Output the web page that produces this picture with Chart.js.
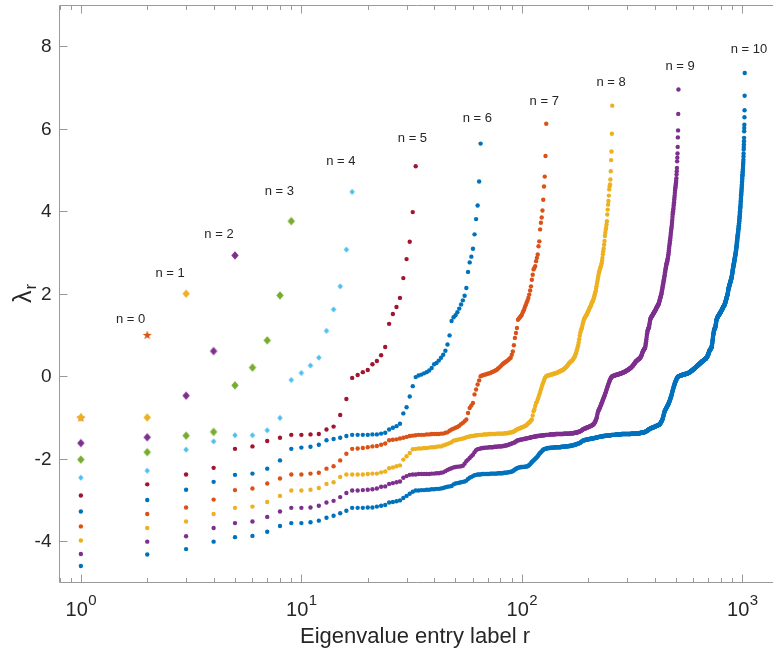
<!DOCTYPE html>
<html>
<head>
<meta charset="utf-8">
<script src="https://cdn.jsdelivr.net/npm/chart.js@4.4.1/dist/chart.umd.min.js"></script>
<style>
  html, body { margin: 0; padding: 0; background: #fff; overflow: hidden; }
  #wrap { width: 773px; height: 653px; position: relative; }
</style>
</head>
<body>
<div id="wrap"><canvas id="eigChart"></canvas></div>
<script>
// sorted eigenvalues lambda_r for each level n (2^n + 1 entries)
var lam0 = [-1.00, 1.00];
var lam1 = [-1.00, -1.00, 2.00];
var lam2 = [-1.62, -1.48, -0.47, 0.61, 2.93];
var lam3 = [-2.02, -1.84, -1.44, -1.35, -0.22, 0.21, 0.87, 1.96, 3.76];
var lam4 = [-2.46, -2.29, -1.78, -1.58, -1.43, -1.43, -1.31, -1.01, -0.09, 0.08, 0.26, 0.45, 1.10, 1.62, 2.18, 3.07, 4.47];
var lam5 = [-2.89, -2.62, -2.38, -2.22, -1.76, -1.70, -1.57, -1.49,
  -1.42, -1.42, -1.41, -1.40, -1.29, -1.22, -0.94, -0.55,
  -0.04, 0.03, 0.10, 0.15, 0.29, 0.37, 0.51, 0.71,
  1.27, 1.51, 1.68, 1.90, 2.38, 2.84, 3.26, 3.98, 5.09];
var lam6 = [-3.28, -3.00, -2.75, -2.56, -2.39, -2.36, -2.24, -2.04,
  -1.76, -1.73, -1.71, -1.66, -1.55, -1.52, -1.49, -1.45,
  -1.42, -1.42, -1.42, -1.42, -1.41, -1.41, -1.39, -1.37,
  -1.29, -1.25, -1.21, -1.15, -0.90, -0.75, -0.49, -0.24,
  -0.02, 0.02, 0.04, 0.07, 0.10, 0.14, 0.20, 0.29,
  0.32, 0.38, 0.45, 0.52, 0.62, 0.77, 0.99, 1.34,
  1.43, 1.48, 1.55, 1.64, 1.74, 1.84, 1.95, 2.14,
  2.53, 2.76, 2.90, 3.09, 3.44, 3.81, 4.14, 4.72, 5.64];
var lam7 = [-3.64, -3.34, -3.18, -2.99, -2.76, -2.72, -2.60, -2.48,
  -2.38, -2.38, -2.36, -2.34, -2.24, -2.18, -2.04, -1.88,
  -1.76, -1.75, -1.74, -1.72, -1.70, -1.69, -1.66, -1.63,
  -1.55, -1.54, -1.53, -1.51, -1.49, -1.47, -1.45, -1.44,
  -1.43, -1.42, -1.42, -1.42, -1.41, -1.41, -1.40, -1.40,
  -1.40, -1.40, -1.39, -1.39, -1.37, -1.36, -1.32, -1.29,
  -1.27, -1.25, -1.23, -1.20, -1.16, -1.13, -1.09, -1.05,
  -0.89, -0.77, -0.71, -0.65, -0.44, -0.32, -0.20, -0.10,
  0.00, 0.02, 0.03, 0.04, 0.05, 0.06, 0.07, 0.08,
  0.10, 0.11, 0.13, 0.14, 0.16, 0.19, 0.21, 0.24,
  0.27, 0.30, 0.32, 0.34, 0.36, 0.38, 0.40, 0.43,
  0.45, 0.52, 0.60, 0.75, 0.93, 1.05, 1.17, 1.37,
  1.40, 1.43, 1.46, 1.49, 1.55, 1.60, 1.66, 1.72,
  1.78, 1.83, 1.90, 1.98, 2.08, 2.18, 2.34, 2.46,
  2.59, 2.63, 2.67, 2.79, 2.87, 2.95, 3.15, 3.27,
  3.56, 3.72, 3.85, 4.02, 4.28, 4.60, 4.84, 5.34, 6.12];
var lam8 = [-3.98,-3.68,-3.52,-3.34,-3.19,-3.16,-3.05,-2.90,-2.77,-2.77,-2.75,-2.71,-2.61,-2.57,-2.44,-2.38,
  -2.38,-2.38,-2.38,-2.37,-2.36,-2.36,-2.33,-2.31,-2.23,-2.21,-2.18,-2.16,-2.02,-1.94,-1.86,-1.77,
  -1.76,-1.75,-1.75,-1.74,-1.74,-1.73,-1.72,-1.72,-1.71,-1.70,-1.70,-1.68,-1.66,-1.64,-1.62,-1.60,
  -1.56,-1.55,-1.54,-1.53,-1.52,-1.51,-1.50,-1.48,-1.47,-1.46,-1.45,-1.45,-1.44,-1.43,-1.43,-1.42,
  -1.42,-1.42,-1.41,-1.41,-1.41,-1.41,-1.40,-1.40,-1.40,-1.40,-1.40,-1.40,-1.39,-1.39,-1.39,-1.39,
  -1.39,-1.39,-1.39,-1.38,-1.38,-1.38,-1.37,-1.37,-1.36,-1.36,-1.35,-1.34,-1.32,-1.31,-1.29,-1.28,
  -1.27,-1.26,-1.25,-1.24,-1.23,-1.22,-1.21,-1.20,-1.18,-1.16,-1.14,-1.12,-1.10,-1.07,-1.05,-0.95,
  -0.85,-0.80,-0.72,-0.65,-0.62,-0.56,-0.50,-0.44,-0.38,-0.32,-0.26,-0.20,-0.15,-0.10,-0.05,-0.02,
  0.00,0.01,0.02,0.02,0.03,0.03,0.04,0.04,0.05,0.05,0.06,0.06,0.07,0.07,0.08,0.08,
  0.09,0.10,0.11,0.11,0.12,0.13,0.14,0.14,0.15,0.16,0.17,0.19,0.20,0.21,0.23,0.24,
  0.26,0.28,0.30,0.32,0.33,0.35,0.36,0.37,0.38,0.40,0.42,0.44,0.46,0.49,0.52,0.56,
  0.61,0.65,0.70,0.75,0.82,0.90,0.98,1.05,1.10,1.14,1.17,1.22,1.28,1.32,1.37,1.40,
  1.42,1.44,1.46,1.48,1.50,1.53,1.56,1.58,1.60,1.63,1.66,1.68,1.70,1.73,1.76,1.79,
  1.81,1.83,1.86,1.90,1.94,1.98,2.02,2.06,2.12,2.18,2.24,2.30,2.36,2.42,2.48,2.53,
  2.56,2.60,2.63,2.66,2.70,2.74,2.80,2.87,2.96,3.03,3.10,3.19,3.28,3.40,3.48,3.55,
  3.60,3.68,3.76,3.92,4.04,4.16,4.25,4.38,4.53,4.60,4.65,4.77,4.97,5.24,5.45,5.88,
  6.56];
var lam9 = [-4.31,-4.01,-3.88,-3.68,-3.56,-3.52,-3.41,-3.28,-3.19,-3.19,-3.18,-3.14,-3.06,-3.02,-2.93,-2.83,
  -2.77,-2.77,-2.76,-2.75,-2.74,-2.72,-2.68,-2.67,-2.61,-2.59,-2.57,-2.55,-2.46,-2.42,-2.39,-2.38,
  -2.38,-2.37,-2.37,-2.37,-2.37,-2.37,-2.36,-2.36,-2.35,-2.35,-2.34,-2.33,-2.30,-2.27,-2.25,-2.23,
  -2.21,-2.20,-2.19,-2.19,-2.18,-2.17,-2.12,-2.06,-2.02,-1.98,-1.94,-1.90,-1.84,-1.79,-1.77,-1.76,
  -1.75,-1.74,-1.74,-1.73,-1.73,-1.73,-1.72,-1.72,-1.72,-1.72,-1.71,-1.71,-1.71,-1.70,-1.70,-1.70,
  -1.70,-1.69,-1.69,-1.68,-1.68,-1.67,-1.66,-1.65,-1.64,-1.63,-1.62,-1.61,-1.60,-1.58,-1.56,-1.55,
  -1.55,-1.54,-1.54,-1.53,-1.53,-1.52,-1.52,-1.51,-1.51,-1.50,-1.50,-1.49,-1.49,-1.48,-1.48,-1.47,
  -1.47,-1.46,-1.46,-1.46,-1.45,-1.45,-1.45,-1.44,-1.44,-1.44,-1.44,-1.43,-1.43,-1.43,-1.43,-1.42,
  -1.42,-1.42,-1.42,-1.42,-1.42,-1.41,-1.41,-1.41,-1.41,-1.41,-1.41,-1.41,-1.41,-1.40,-1.40,-1.40,
  -1.40,-1.40,-1.40,-1.40,-1.40,-1.40,-1.40,-1.40,-1.40,-1.40,-1.39,-1.39,-1.39,-1.39,-1.39,-1.39,
  -1.39,-1.39,-1.39,-1.39,-1.39,-1.39,-1.38,-1.38,-1.38,-1.38,-1.38,-1.38,-1.37,-1.37,-1.37,-1.37,
  -1.37,-1.36,-1.36,-1.35,-1.35,-1.34,-1.34,-1.33,-1.33,-1.32,-1.31,-1.30,-1.29,-1.28,-1.28,-1.27,
  -1.27,-1.26,-1.26,-1.25,-1.25,-1.24,-1.24,-1.23,-1.23,-1.22,-1.22,-1.21,-1.21,-1.20,-1.20,-1.19,
  -1.18,-1.17,-1.17,-1.16,-1.14,-1.12,-1.10,-1.08,-1.05,-1.02,-0.98,-0.93,-0.88,-0.85,-0.82,-0.80,
  -0.78,-0.76,-0.73,-0.70,-0.68,-0.65,-0.63,-0.60,-0.57,-0.55,-0.52,-0.50,-0.47,-0.45,-0.42,-0.39,
  -0.36,-0.33,-0.30,-0.27,-0.24,-0.21,-0.19,-0.16,-0.14,-0.11,-0.09,-0.07,-0.05,-0.03,-0.02,-0.01,
  0.00,0.00,0.01,0.01,0.01,0.02,0.02,0.02,0.03,0.03,0.03,0.03,0.04,0.04,0.04,0.04,
  0.05,0.05,0.05,0.05,0.06,0.06,0.06,0.06,0.07,0.07,0.07,0.08,0.08,0.08,0.09,0.09,
  0.09,0.10,0.10,0.11,0.11,0.11,0.12,0.12,0.13,0.13,0.14,0.14,0.15,0.15,0.16,0.16,
  0.17,0.17,0.18,0.18,0.19,0.20,0.20,0.21,0.21,0.22,0.23,0.24,0.24,0.25,0.26,0.27,
  0.28,0.29,0.30,0.31,0.32,0.33,0.34,0.35,0.36,0.37,0.37,0.38,0.38,0.39,0.40,0.40,
  0.41,0.41,0.42,0.42,0.43,0.43,0.44,0.45,0.46,0.47,0.48,0.50,0.51,0.53,0.55,0.57,
  0.59,0.61,0.62,0.63,0.64,0.65,0.66,0.67,0.68,0.69,0.72,0.76,0.80,0.85,0.90,0.95,
  1.00,1.04,1.08,1.11,1.13,1.15,1.16,1.17,1.19,1.22,1.26,1.30,1.34,1.37,1.39,1.41,
  1.42,1.43,1.44,1.45,1.46,1.47,1.48,1.49,1.50,1.51,1.52,1.53,1.54,1.55,1.56,1.57,
  1.58,1.59,1.60,1.61,1.62,1.63,1.65,1.66,1.67,1.68,1.69,1.70,1.71,1.72,1.73,1.74,
  1.75,1.77,1.79,1.81,1.83,1.85,1.87,1.89,1.91,1.93,1.95,1.97,1.99,2.02,2.05,2.08,
  2.11,2.14,2.17,2.20,2.23,2.26,2.29,2.32,2.35,2.38,2.41,2.44,2.48,2.52,2.55,2.58,
  2.61,2.64,2.67,2.70,2.72,2.74,2.76,2.78,2.80,2.83,2.86,2.89,2.92,2.96,3.00,3.05,
  3.10,3.14,3.18,3.22,3.26,3.30,3.34,3.38,3.43,3.48,3.52,3.56,3.60,3.64,3.69,3.74,
  3.79,3.86,3.93,3.97,4.00,4.04,4.08,4.14,4.18,4.22,4.28,4.33,4.38,4.44,4.50,4.54,
  4.58,4.62,4.66,4.69,4.74,4.80,4.89,4.97,5.05,5.21,5.30,5.40,5.56,5.79,5.96,6.36,
  6.95];
var lam10 = [-4.60,-4.32,-4.19,-4.01,-3.90,-3.87,-3.77,-3.63,-3.56,-3.56,-3.54,-3.50,-3.43,-3.38,-3.32,-3.26,
  -3.19,-3.19,-3.19,-3.18,-3.18,-3.16,-3.14,-3.12,-3.06,-3.05,-3.03,-3.01,-2.95,-2.90,-2.85,-2.80,
  -2.77,-2.77,-2.76,-2.76,-2.75,-2.75,-2.74,-2.74,-2.73,-2.73,-2.72,-2.71,-2.69,-2.68,-2.67,-2.66,
  -2.62,-2.60,-2.59,-2.58,-2.57,-2.56,-2.55,-2.53,-2.49,-2.46,-2.44,-2.42,-2.40,-2.39,-2.38,-2.38,
  -2.38,-2.37,-2.37,-2.37,-2.37,-2.37,-2.37,-2.36,-2.36,-2.36,-2.36,-2.36,-2.36,-2.35,-2.35,-2.35,
  -2.35,-2.35,-2.34,-2.34,-2.34,-2.33,-2.33,-2.32,-2.32,-2.31,-2.30,-2.28,-2.26,-2.25,-2.23,-2.22,
  -2.21,-2.21,-2.20,-2.20,-2.20,-2.20,-2.19,-2.19,-2.19,-2.18,-2.17,-2.15,-2.13,-2.11,-2.08,-2.06,
  -2.04,-2.02,-2.00,-1.98,-1.96,-1.94,-1.91,-1.88,-1.86,-1.84,-1.82,-1.80,-1.78,-1.77,-1.76,-1.76,
  -1.75,-1.75,-1.74,-1.74,-1.74,-1.74,-1.73,-1.73,-1.73,-1.73,-1.73,-1.73,-1.72,-1.72,-1.72,-1.72,
  -1.72,-1.72,-1.72,-1.72,-1.72,-1.72,-1.71,-1.71,-1.71,-1.71,-1.71,-1.71,-1.70,-1.70,-1.70,-1.70,
  -1.70,-1.70,-1.69,-1.69,-1.69,-1.69,-1.68,-1.68,-1.68,-1.68,-1.67,-1.67,-1.66,-1.66,-1.66,-1.65,
  -1.65,-1.64,-1.64,-1.63,-1.63,-1.62,-1.62,-1.61,-1.60,-1.59,-1.58,-1.57,-1.56,-1.56,-1.55,-1.55,
  -1.55,-1.54,-1.54,-1.54,-1.54,-1.53,-1.53,-1.53,-1.53,-1.52,-1.52,-1.52,-1.52,-1.51,-1.51,-1.51,
  -1.51,-1.51,-1.50,-1.50,-1.50,-1.50,-1.49,-1.49,-1.49,-1.49,-1.48,-1.48,-1.48,-1.48,-1.47,-1.47,
  -1.47,-1.47,-1.46,-1.46,-1.46,-1.46,-1.46,-1.46,-1.45,-1.45,-1.45,-1.45,-1.45,-1.45,-1.44,-1.44,
  -1.44,-1.44,-1.44,-1.44,-1.44,-1.44,-1.43,-1.43,-1.43,-1.43,-1.43,-1.43,-1.43,-1.43,-1.42,-1.42,
  -1.42,-1.42,-1.42,-1.42,-1.42,-1.42,-1.42,-1.42,-1.42,-1.42,-1.41,-1.41,-1.41,-1.41,-1.41,-1.41,
  -1.41,-1.41,-1.41,-1.41,-1.41,-1.41,-1.41,-1.41,-1.41,-1.41,-1.40,-1.40,-1.40,-1.40,-1.40,-1.40,
  -1.40,-1.40,-1.40,-1.40,-1.40,-1.40,-1.40,-1.40,-1.40,-1.40,-1.40,-1.40,-1.40,-1.40,-1.40,-1.40,
  -1.40,-1.40,-1.40,-1.40,-1.40,-1.40,-1.40,-1.40,-1.39,-1.39,-1.39,-1.39,-1.39,-1.39,-1.39,-1.39,
  -1.39,-1.39,-1.39,-1.39,-1.39,-1.39,-1.39,-1.39,-1.39,-1.39,-1.39,-1.39,-1.38,-1.38,-1.38,-1.38,
  -1.38,-1.38,-1.38,-1.38,-1.38,-1.38,-1.38,-1.38,-1.37,-1.37,-1.37,-1.37,-1.37,-1.37,-1.37,-1.37,
  -1.37,-1.37,-1.37,-1.36,-1.36,-1.36,-1.36,-1.35,-1.35,-1.35,-1.35,-1.34,-1.34,-1.34,-1.33,-1.33,
  -1.33,-1.32,-1.32,-1.31,-1.31,-1.30,-1.30,-1.29,-1.29,-1.28,-1.28,-1.28,-1.27,-1.27,-1.27,-1.26,
  -1.26,-1.26,-1.26,-1.25,-1.25,-1.25,-1.25,-1.24,-1.24,-1.24,-1.24,-1.23,-1.23,-1.23,-1.23,-1.22,
  -1.22,-1.22,-1.22,-1.21,-1.21,-1.21,-1.21,-1.20,-1.20,-1.20,-1.20,-1.19,-1.19,-1.19,-1.19,-1.18,
  -1.18,-1.18,-1.17,-1.17,-1.17,-1.16,-1.16,-1.15,-1.14,-1.13,-1.12,-1.11,-1.10,-1.09,-1.08,-1.07,
  -1.06,-1.04,-1.03,-1.01,-0.99,-0.97,-0.95,-0.93,-0.91,-0.89,-0.87,-0.85,-0.84,-0.83,-0.82,-0.81,
  -0.80,-0.79,-0.78,-0.77,-0.76,-0.75,-0.74,-0.73,-0.72,-0.71,-0.70,-0.69,-0.68,-0.67,-0.66,-0.65,
  -0.63,-0.62,-0.61,-0.59,-0.58,-0.57,-0.55,-0.54,-0.52,-0.51,-0.49,-0.48,-0.46,-0.44,-0.42,-0.40,
  -0.38,-0.36,-0.35,-0.33,-0.31,-0.30,-0.28,-0.26,-0.25,-0.23,-0.22,-0.20,-0.19,-0.17,-0.16,-0.15,
  -0.13,-0.12,-0.11,-0.10,-0.09,-0.08,-0.07,-0.06,-0.05,-0.04,-0.03,-0.03,-0.02,-0.02,-0.01,-0.01,
  0.00,0.00,0.00,0.00,0.00,0.01,0.01,0.01,0.01,0.01,0.01,0.02,0.02,0.02,0.02,0.02,
  0.02,0.03,0.03,0.03,0.03,0.03,0.03,0.03,0.04,0.04,0.04,0.04,0.04,0.04,0.04,0.04,
  0.05,0.05,0.05,0.05,0.05,0.05,0.05,0.05,0.06,0.06,0.06,0.06,0.06,0.06,0.06,0.06,
  0.07,0.07,0.07,0.07,0.07,0.07,0.08,0.08,0.08,0.08,0.08,0.08,0.09,0.09,0.09,0.09,
  0.10,0.10,0.10,0.11,0.11,0.11,0.12,0.12,0.12,0.12,0.13,0.13,0.13,0.14,0.14,0.14,
  0.15,0.15,0.15,0.16,0.16,0.16,0.17,0.17,0.17,0.18,0.18,0.18,0.19,0.19,0.19,0.20,
  0.20,0.20,0.21,0.21,0.21,0.22,0.22,0.22,0.23,0.23,0.23,0.24,0.24,0.24,0.25,0.25,
  0.25,0.26,0.26,0.26,0.27,0.27,0.27,0.28,0.28,0.28,0.29,0.29,0.29,0.30,0.30,0.30,
  0.31,0.31,0.31,0.32,0.32,0.32,0.33,0.33,0.33,0.34,0.34,0.34,0.35,0.35,0.35,0.36,
  0.36,0.36,0.37,0.37,0.37,0.37,0.38,0.38,0.38,0.38,0.39,0.39,0.39,0.39,0.40,0.40,
  0.40,0.41,0.41,0.41,0.41,0.42,0.42,0.42,0.42,0.43,0.43,0.43,0.44,0.44,0.45,0.45,
  0.46,0.46,0.47,0.47,0.48,0.48,0.49,0.50,0.51,0.51,0.52,0.53,0.54,0.55,0.56,0.57,
  0.58,0.59,0.60,0.61,0.62,0.62,0.63,0.63,0.64,0.64,0.65,0.65,0.66,0.66,0.67,0.67,
  0.68,0.68,0.69,0.69,0.71,0.72,0.74,0.76,0.78,0.80,0.83,0.85,0.88,0.90,0.93,0.96,
  1.00,1.00,1.02,1.04,1.06,1.08,1.10,1.11,1.12,1.13,1.14,1.15,1.16,1.16,1.17,1.17,
  1.18,1.19,1.21,1.22,1.24,1.26,1.28,1.30,1.32,1.34,1.36,1.37,1.38,1.39,1.40,1.41,
  1.42,1.42,1.43,1.43,1.44,1.44,1.45,1.45,1.46,1.46,1.47,1.47,1.48,1.48,1.49,1.49,
  1.50,1.50,1.51,1.51,1.52,1.52,1.53,1.53,1.54,1.54,1.55,1.55,1.56,1.56,1.57,1.57,
  1.58,1.58,1.59,1.59,1.60,1.60,1.61,1.61,1.62,1.62,1.63,1.63,1.65,1.65,1.66,1.66,
  1.67,1.67,1.68,1.68,1.69,1.69,1.70,1.70,1.71,1.71,1.72,1.72,1.73,1.73,1.74,1.74,
  1.75,1.76,1.77,1.78,1.79,1.80,1.81,1.82,1.83,1.84,1.85,1.86,1.87,1.88,1.89,1.90,
  1.91,1.92,1.93,1.94,1.95,1.96,1.97,1.98,1.99,2.00,2.02,2.03,2.05,2.07,2.08,2.10,
  2.12,2.13,2.14,2.15,2.16,2.17,2.18,2.19,2.20,2.21,2.22,2.23,2.24,2.25,2.26,2.26,
  2.27,2.28,2.29,2.30,2.31,2.32,2.33,2.34,2.35,2.36,2.37,2.38,2.39,2.40,2.41,2.43,
  2.44,2.46,2.48,2.50,2.51,2.53,2.55,2.57,2.58,2.60,2.61,2.63,2.64,2.66,2.68,2.69,
  2.70,2.72,2.73,2.74,2.76,2.77,2.79,2.80,2.82,2.83,2.85,2.86,2.88,2.89,2.91,2.92,
  2.94,2.95,2.96,2.98,2.99,3.01,3.03,3.05,3.07,3.09,3.11,3.13,3.15,3.17,3.20,3.22,
  3.25,3.27,3.29,3.31,3.34,3.36,3.38,3.40,3.42,3.44,3.46,3.48,3.50,3.52,3.55,3.57,
  3.59,3.62,3.64,3.66,3.69,3.71,3.74,3.76,3.79,3.82,3.85,3.88,3.91,3.94,3.97,4.00,
  4.03,4.06,4.09,4.12,4.16,4.20,4.24,4.27,4.31,4.35,4.38,4.41,4.44,4.47,4.50,4.54,
  4.57,4.61,4.65,4.69,4.72,4.76,4.80,4.84,4.87,4.90,4.94,4.97,5.01,5.05,5.08,5.12,
  5.16,5.20,5.25,5.33,5.40,5.50,5.56,5.62,5.70,5.78,5.94,6.02,6.10,6.28,6.45,6.80,
  7.35];

var levels = [lam0, lam1, lam2, lam3, lam4, lam5, lam6, lam7, lam8, lam9, lam10];
var labelText = ['n = 0', 'n = 1', 'n = 2', 'n = 3', 'n = 4', 'n = 5', 'n = 6', 'n = 7', 'n = 8', 'n = 9', 'n = 10'];
// where each "n = k" note sits, in data units (r, lambda)
var labelR = [1.68, 2.54, 4.23, 7.94, 15.1, 31.9, 62.8, 126.3, 253.8, 521.9, 1072];
var labelLam = [1.375, 2.49, 3.45, 4.47, 5.20, 5.77, 6.24, 6.66, 7.12, 7.52, 7.92];
var yTicks = [-4, -2, 0, 2, 4, 6, 8];
var xTickExp = [0, 1, 2, 3];

var seriesColors = ['#D95319', '#EDB120', '#7E2F8E', '#77AC30', '#4DBEEE', '#A2142F',
  '#0072BD', '#D95319', '#EDB120', '#7E2F8E', '#0072BD'];
var textColor = '#262626';
var axisColor = '#9a9a9a';
var fontFam = '"Liberation Sans", Arial, Helvetica, sans-serif';

function starCanvas(color, R) {
  var s = Math.ceil(R * 2 + 2);
  var c = document.createElement('canvas');
  c.width = s; c.height = s;
  var g = c.getContext('2d');
  g.translate(s / 2, s / 2 + 0.4);
  g.beginPath();
  for (var k = 0; k < 10; k++) {
    var rr = k % 2 === 0 ? R : R * 0.4;
    var ang = -Math.PI / 2 + k * Math.PI / 5;
    g.lineTo(rr * Math.cos(ang), rr * Math.sin(ang));
  }
  g.closePath();
  g.fillStyle = color;
  g.fill();
  return c;
}

function diamondCanvas(color, hw, hh) {
  var w = Math.ceil(hw * 2 + 2), h = Math.ceil(hh * 2 + 2);
  var c = document.createElement('canvas');
  c.width = w; c.height = h;
  var g = c.getContext('2d');
  g.translate(w / 2, h / 2);
  g.beginPath();
  g.moveTo(0, -hh); g.lineTo(hw, 0); g.lineTo(0, hh); g.lineTo(-hw, 0);
  g.closePath();
  g.fillStyle = color;
  g.fill();
  return c;
}

function markerFor(n) {
  if (n === 0) return starCanvas(seriesColors[n], 4.8);
  if (n <= 3) return diamondCanvas(seriesColors[n], 3.7, 4.3);
  if (n === 4) return diamondCanvas(seriesColors[n], 2.7, 3.1);
  return 'circle';
}

var datasets = levels.map(function (lam, n) {
  return {
    label: labelText[n],
    data: lam.map(function (v, i) { return { x: i + 1, y: v }; }),
    pointStyle: markerFor(n),
    pointRadius: n >= 5 ? 2.2 : 4,
    pointBorderWidth: 0,
    backgroundColor: seriesColors[n],
    borderColor: seriesColors[n],
    showLine: false,
    order: 10 - n
  };
});

var matlabAxes = {
  id: 'matlabAxes',
  afterDatasetsDraw: function (chart) {
    var ctx = chart.ctx, a = chart.chartArea;
    var xs = chart.scales.x, ys = chart.scales.y;
    var L = Math.floor(a.left) + 0.5, W = chart.width;
    var T = Math.floor(a.top) + 0.5, B = Math.floor(a.bottom) + 0.5;
    ctx.save();
    ctx.strokeStyle = axisColor;
    ctx.lineWidth = 1;
    ctx.beginPath();
    // the right side of the box falls outside the picture
    ctx.moveTo(W, T); ctx.lineTo(L, T); ctx.lineTo(L, B); ctx.lineTo(W, B);
    // x ticks, major and minor, on bottom and top
    for (var k = -1; k <= 3; k++) {
      for (var m = 1; m <= 9; m++) {
        var v = m * Math.pow(10, k);
        if (v < xs.min || v > xs.max) continue;
        var px = Math.round(xs.getPixelForValue(v)) + 0.5;
        var len = m === 1 ? 8 : 4.5;
        ctx.moveTo(px, B); ctx.lineTo(px, B - len);
        ctx.moveTo(px, T); ctx.lineTo(px, T + len);
      }
    }
    yTicks.forEach(function (t) {
      var py = Math.round(ys.getPixelForValue(t)) + 0.5;
      ctx.moveTo(L, py); ctx.lineTo(L + 8, py);
    });
    ctx.stroke();

    // y tick labels
    ctx.fillStyle = textColor;
    ctx.font = '19px ' + fontFam;
    ctx.textAlign = 'right';
    ctx.textBaseline = 'middle';
    yTicks.forEach(function (t) {
      ctx.fillText(String(t), a.left - 8, ys.getPixelForValue(t) + 1);
    });

    // x tick labels 10^k
    ctx.textBaseline = 'alphabetic';
    ctx.textAlign = 'left';
    xTickExp.forEach(function (e) {
      var px = xs.getPixelForValue(Math.pow(10, e));
      ctx.font = '20px ' + fontFam;
      var w1 = ctx.measureText('10').width;
      ctx.font = '15px ' + fontFam;
      var w2 = ctx.measureText(String(e)).width;
      var x0 = px - (w1 + w2) / 2;
      ctx.font = '20px ' + fontFam;
      ctx.fillText('10', x0, 616);
      ctx.font = '15px ' + fontFam;
      ctx.fillText(String(e), x0 + w1 + 0.5, 605);
    });

    // axis titles
    ctx.font = '22px ' + fontFam;
    ctx.textAlign = 'center';
    ctx.fillText('Eigenvalue entry label r', 415, 643);

    ctx.save();
    ctx.translate(31, 303);
    ctx.rotate(-Math.PI / 2);
    ctx.textAlign = 'left';
    ctx.font = '25px ' + fontFam;
    ctx.fillText('\u03bb', 0, 0);
    var lw = ctx.measureText('\u03bb').width;
    ctx.font = '17px ' + fontFam;
    ctx.fillText('r', lw + 1, 5);
    ctx.restore();

    // level notes
    ctx.font = '13px ' + fontFam;
    ctx.textAlign = 'center';
    ctx.textBaseline = 'middle';
    labelText.forEach(function (txt, n) {
      ctx.fillText(txt, xs.getPixelForValue(labelR[n]), ys.getPixelForValue(labelLam[n]));
    });
    ctx.restore();
  }
};

new Chart(document.getElementById('eigChart'), {
  type: 'scatter',
  data: { datasets: datasets },
  options: {
    responsive: true,
    maintainAspectRatio: false,
    animation: false,
    events: [],
    layout: { autoPadding: false, padding: { left: 59.5, right: 0, top: 5, bottom: 70.5 } },
    scales: {
      x: { type: 'logarithmic', min: 0.8, max: 1377, display: false },
      y: { type: 'linear', min: -5, max: 9, display: false }
    },
    plugins: {
      legend: { display: false },
      tooltip: { enabled: false }
    }
  },
  plugins: [matlabAxes]
});
</script>
</body>
</html>
